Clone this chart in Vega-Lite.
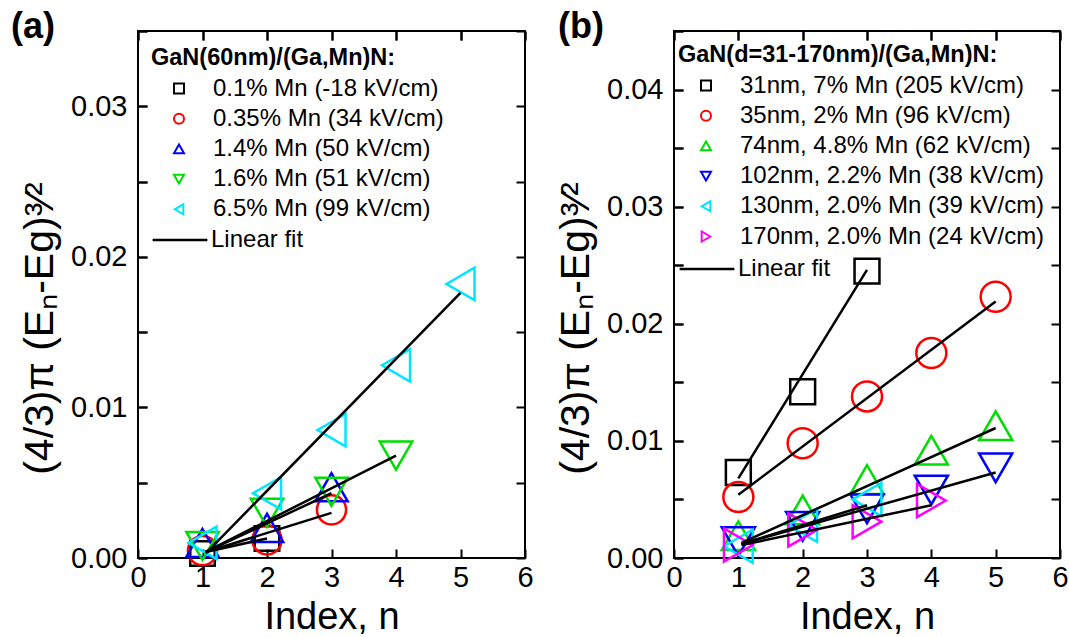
{
  "$schema": "https://vega.github.io/schema/vega-lite/v6.json",
  "background": "white",
  "padding": {"left": 10, "top": 8, "right": 5, "bottom": 0},
  "spacing": 149,
  "bounds": "flush",
  "config": {
    "font": "Liberation Sans",
    "view": {"stroke": "black", "strokeWidth": 2},
    "axis": {
      "domain": false, "offset": -9, "zindex": 2, "ticks": true, "tickOpacity": 1,
      "tickColor": "#000000", "tickWidth": 2, "tickSize": 9,
      "grid": true, "gridColor": "#000000", "gridWidth": 2, "gridOpacity": 1, "gridDash": [9, 3000], "gridCap": "butt",
      "labelFontSize": 29, "labelColor": "black", "labelPadding": 11,
      "labelFlush": false, "labelOverlap": false,
      "titleFontSize": 38, "titleFontWeight": "normal", "titleColor": "black"
    },
    "legend": {
      "labelFontSize": 24, "labelColor": "black", "labelLimit": 0, "titleLimit": 0,
      "titleFontSize": 23.5, "titleFontWeight": "bold", "titleColor": "black"
    }
  },
  "resolve": {
    "scale": {"stroke": "independent", "shape": "independent", "color": "independent"},
    "legend": {"stroke": "independent", "shape": "independent", "color": "independent"}
  },
  "hconcat": [
    {
      "width": 387,
      "height": 527,
      "title": {"text": "(a)", "anchor": "start", "frame": "group", "dx": -127, "fontSize": 36, "fontWeight": "bold", "color": "black", "offset": -29},
      "resolve": {"axis": {"x": "independent", "y": "independent"}},
      "layer": [
        {
          "data": {"values": [
            {"s": "0.1% Mn (-18 kV/cm)", "n": 1, "v": 0.0003},
            {"s": "0.1% Mn (-18 kV/cm)", "n": 2, "v": 0.0013},
            {"s": "0.35% Mn (34 kV/cm)", "n": 1, "v": 0.0005},
            {"s": "0.35% Mn (34 kV/cm)", "n": 2, "v": 0.0012},
            {"s": "0.35% Mn (34 kV/cm)", "n": 3, "v": 0.0032},
            {"s": "1.4% Mn (50 kV/cm)", "n": 1, "v": 0.0010},
            {"s": "1.4% Mn (50 kV/cm)", "n": 2, "v": 0.0020},
            {"s": "1.4% Mn (50 kV/cm)", "n": 3, "v": 0.0047},
            {"s": "1.6% Mn (51 kV/cm)", "n": 1, "v": 0.0008},
            {"s": "1.6% Mn (51 kV/cm)", "n": 2, "v": 0.0030},
            {"s": "1.6% Mn (51 kV/cm)", "n": 3, "v": 0.0044},
            {"s": "1.6% Mn (51 kV/cm)", "n": 4, "v": 0.0068},
            {"s": "6.5% Mn (99 kV/cm)", "n": 1, "v": 0.0010},
            {"s": "6.5% Mn (99 kV/cm)", "n": 2, "v": 0.0043},
            {"s": "6.5% Mn (99 kV/cm)", "n": 3, "v": 0.0085},
            {"s": "6.5% Mn (99 kV/cm)", "n": 4, "v": 0.0128},
            {"s": "6.5% Mn (99 kV/cm)", "n": 5, "v": 0.0182}
          ]},
          "mark": {"type": "point", "filled": false, "strokeWidth": 2.5, "opacity": 1},
          "encoding": {
            "x": {"field": "n", "type": "quantitative",
              "scale": {"domain": [0, 6], "nice": false, "zero": false},
              "axis": {"orient": "bottom", "offset": -9, "values": [0, 1, 2, 3, 4, 5, 6], "format": "d", "title": "Index, n", "labelPadding": 5, "titlePadding": 6}},
            "y": {"field": "v", "type": "quantitative",
              "scale": {"domain": [0, 0.035], "nice": false},
              "axis": {"orient": "left", "offset": -9, "values": [0, 0.005, 0.01, 0.015, 0.02, 0.025, 0.03, 0.035],
                "labelExpr": "round(datum.value*200) % 2 == 0 ? format(datum.value, '.2f') : ''",
                "title": "(4/3)π (Eₙ-Eg)³⁄²", "titleFontSize": 41, "titlePadding": 9, "titleY": 297}},
            "size": {"condition": [
                {"test": "datum.s === '0.1% Mn (-18 kV/cm)'", "value": 600},
                {"test": "datum.s === '0.35% Mn (34 kV/cm)'", "value": 850}],
              "value": 1050},
            "stroke": {"field": "s", "type": "nominal",
              "scale": {"domain": ["0.1% Mn (-18 kV/cm)", "0.35% Mn (34 kV/cm)", "1.4% Mn (50 kV/cm)", "1.6% Mn (51 kV/cm)", "6.5% Mn (99 kV/cm)"],
                "range": ["#000000", "#ff0000", "#0000ff", "#00dd00", "#00e5ff"]},
              "legend": {"orient": "none", "legendX": 13, "legendY": 15, "title": "GaN(60nm)/(Ga,Mn)N:", "titlePadding": 7,
                "symbolOffset": 16, "symbolStrokeWidth": 2, "labelOffset": 22, "rowPadding": 6.2,
                "encode": {"symbols": {"update": {"size": {"value": 430}}}}}},
            "shape": {"field": "s", "type": "nominal",
              "scale": {"domain": ["0.1% Mn (-18 kV/cm)", "0.35% Mn (34 kV/cm)", "1.4% Mn (50 kV/cm)", "1.6% Mn (51 kV/cm)", "6.5% Mn (99 kV/cm)"],
                "range": ["square", "circle", "triangle-up", "triangle-down", "triangle-left"]},
              "legend": {"orient": "none", "legendX": 13, "legendY": 15, "title": "GaN(60nm)/(Ga,Mn)N:", "titlePadding": 7,
                "symbolOffset": 16, "symbolStrokeWidth": 2, "labelOffset": 22, "rowPadding": 6.2,
                "encode": {"symbols": {"update": {"size": {"value": 430}}}}}}
          }
        },
        {
          "data": {"values": [
            {"s": "0.1% Mn (-18 kV/cm)", "f": "Linear fit", "n": 1.05, "v": 0.0004},
            {"s": "0.1% Mn (-18 kV/cm)", "f": "Linear fit", "n": 2, "v": 0.0013},
            {"s": "0.35% Mn (34 kV/cm)", "f": "Linear fit", "n": 1.05, "v": 0.0004},
            {"s": "0.35% Mn (34 kV/cm)", "f": "Linear fit", "n": 3, "v": 0.0030},
            {"s": "1.4% Mn (50 kV/cm)", "f": "Linear fit", "n": 1.05, "v": 0.0004},
            {"s": "1.4% Mn (50 kV/cm)", "f": "Linear fit", "n": 3, "v": 0.0043},
            {"s": "1.6% Mn (51 kV/cm)", "f": "Linear fit", "n": 1.05, "v": 0.0004},
            {"s": "1.6% Mn (51 kV/cm)", "f": "Linear fit", "n": 4, "v": 0.0068},
            {"s": "6.5% Mn (99 kV/cm)", "f": "Linear fit", "n": 1.05, "v": 0.0003},
            {"s": "6.5% Mn (99 kV/cm)", "f": "Linear fit", "n": 5, "v": 0.0176}
          ]},
          "mark": {"type": "line", "strokeWidth": 2.5},
          "encoding": {
            "x": {"field": "n", "type": "quantitative",
              "axis": {"orient": "top", "offset": -9, "values": [0, 1, 2, 3, 4, 5, 6], "labels": false, "title": null, "minExtent": 0, "maxExtent": 0}},
            "y": {"field": "v", "type": "quantitative",
              "axis": {"orient": "right", "offset": -9, "values": [0, 0.005, 0.01, 0.015, 0.02, 0.025, 0.03, 0.035], "labels": false, "title": null, "minExtent": 0, "maxExtent": 0}},
            "detail": {"field": "s", "type": "nominal"},
            "color": {"field": "f", "type": "nominal", "scale": {"domain": ["Linear fit"], "range": ["#000000"]},
              "legend": {"orient": "none", "legendX": 13, "legendY": 180, "title": null, "symbolType": "stroke", "symbolSize": 3000, "symbolStrokeWidth": 2.5, "labelOffset": 2}}
          }
        }
      ]
    },
    {
      "width": 386,
      "height": 527,
      "title": {"text": "(b)", "anchor": "start", "frame": "group", "dx": -116, "fontSize": 36, "fontWeight": "bold", "color": "black", "offset": -29},
      "resolve": {"axis": {"x": "independent", "y": "independent"}},
      "layer": [
        {
          "data": {"values": [
            {"s": "31nm, 7% Mn (205 kV/cm)", "n": 1, "v": 0.0073},
            {"s": "31nm, 7% Mn (205 kV/cm)", "n": 2, "v": 0.0142},
            {"s": "31nm, 7% Mn (205 kV/cm)", "n": 3, "v": 0.0245},
            {"s": "35nm, 2% Mn (96 kV/cm)", "n": 1, "v": 0.0052},
            {"s": "35nm, 2% Mn (96 kV/cm)", "n": 2, "v": 0.0098},
            {"s": "35nm, 2% Mn (96 kV/cm)", "n": 3, "v": 0.0138},
            {"s": "35nm, 2% Mn (96 kV/cm)", "n": 4, "v": 0.0175},
            {"s": "35nm, 2% Mn (96 kV/cm)", "n": 5, "v": 0.0223},
            {"s": "74nm, 4.8% Mn (62 kV/cm)", "n": 1, "v": 0.0019},
            {"s": "74nm, 4.8% Mn (62 kV/cm)", "n": 2, "v": 0.0041},
            {"s": "74nm, 4.8% Mn (62 kV/cm)", "n": 3, "v": 0.0067},
            {"s": "74nm, 4.8% Mn (62 kV/cm)", "n": 4, "v": 0.0092},
            {"s": "74nm, 4.8% Mn (62 kV/cm)", "n": 5, "v": 0.0113},
            {"s": "102nm, 2.2% Mn (38 kV/cm)", "n": 1, "v": 0.0014},
            {"s": "102nm, 2.2% Mn (38 kV/cm)", "n": 2, "v": 0.0027},
            {"s": "102nm, 2.2% Mn (38 kV/cm)", "n": 3, "v": 0.0042},
            {"s": "102nm, 2.2% Mn (38 kV/cm)", "n": 4, "v": 0.0058},
            {"s": "102nm, 2.2% Mn (38 kV/cm)", "n": 5, "v": 0.0077},
            {"s": "130nm, 2.0% Mn (39 kV/cm)", "n": 1, "v": 0.0010},
            {"s": "130nm, 2.0% Mn (39 kV/cm)", "n": 2, "v": 0.0028},
            {"s": "130nm, 2.0% Mn (39 kV/cm)", "n": 3, "v": 0.0050},
            {"s": "170nm, 2.0% Mn (24 kV/cm)", "n": 1, "v": 0.0011},
            {"s": "170nm, 2.0% Mn (24 kV/cm)", "n": 2, "v": 0.0024},
            {"s": "170nm, 2.0% Mn (24 kV/cm)", "n": 3, "v": 0.0031},
            {"s": "170nm, 2.0% Mn (24 kV/cm)", "n": 4, "v": 0.0049}
          ]},
          "mark": {"type": "point", "filled": false, "strokeWidth": 2.5, "opacity": 1},
          "encoding": {
            "x": {"field": "n", "type": "quantitative",
              "scale": {"domain": [0, 6], "nice": false, "zero": false},
              "axis": {"orient": "bottom", "offset": -9, "values": [0, 1, 2, 3, 4, 5, 6], "format": "d", "title": "Index, n", "labelPadding": 5, "titlePadding": 6}},
            "y": {"field": "v", "type": "quantitative",
              "scale": {"domain": [0, 0.045], "nice": false},
              "axis": {"orient": "left", "offset": -9, "values": [0, 0.005, 0.01, 0.015, 0.02, 0.025, 0.03, 0.035, 0.04, 0.045],
                "labelExpr": "round(datum.value*200) % 2 == 0 ? format(datum.value, '.2f') : ''",
                "title": "(4/3)π (Eₙ-Eg)³⁄²", "titleFontSize": 41, "titlePadding": 9, "titleY": 297}},
            "size": {"condition": [
                {"test": "datum.s === '31nm, 7% Mn (205 kV/cm)'", "value": 620},
                {"test": "datum.s === '35nm, 2% Mn (96 kV/cm)'", "value": 900}],
              "value": 1100},
            "stroke": {"field": "s", "type": "nominal",
              "scale": {"domain": ["31nm, 7% Mn (205 kV/cm)", "35nm, 2% Mn (96 kV/cm)", "74nm, 4.8% Mn (62 kV/cm)", "102nm, 2.2% Mn (38 kV/cm)", "130nm, 2.0% Mn (39 kV/cm)", "170nm, 2.0% Mn (24 kV/cm)"],
                "range": ["#000000", "#ff0000", "#00dd00", "#0000ff", "#00e5ff", "#ff00ff"]},
              "legend": {"orient": "none", "legendX": 4, "legendY": 12, "title": "GaN(d=31-170nm)/(Ga,Mn)N:", "titlePadding": 7,
                "symbolOffset": 16, "symbolStrokeWidth": 2, "labelOffset": 22, "rowPadding": 6.2,
                "encode": {"symbols": {"update": {"size": {"value": 430}}}}}},
            "shape": {"field": "s", "type": "nominal",
              "scale": {"domain": ["31nm, 7% Mn (205 kV/cm)", "35nm, 2% Mn (96 kV/cm)", "74nm, 4.8% Mn (62 kV/cm)", "102nm, 2.2% Mn (38 kV/cm)", "130nm, 2.0% Mn (39 kV/cm)", "170nm, 2.0% Mn (24 kV/cm)"],
                "range": ["square", "circle", "triangle-up", "triangle-down", "triangle-left", "triangle-right"]},
              "legend": {"orient": "none", "legendX": 4, "legendY": 12, "title": "GaN(d=31-170nm)/(Ga,Mn)N:", "titlePadding": 7,
                "symbolOffset": 16, "symbolStrokeWidth": 2, "labelOffset": 22, "rowPadding": 6.2,
                "encode": {"symbols": {"update": {"size": {"value": 430}}}}}}
          }
        },
        {
          "data": {"values": [
            {"s": "31nm, 7% Mn (205 kV/cm)", "f": "Linear fit", "n": 1, "v": 0.0068},
            {"s": "31nm, 7% Mn (205 kV/cm)", "f": "Linear fit", "n": 3, "v": 0.0246},
            {"s": "35nm, 2% Mn (96 kV/cm)", "f": "Linear fit", "n": 1, "v": 0.0054},
            {"s": "35nm, 2% Mn (96 kV/cm)", "f": "Linear fit", "n": 5, "v": 0.0219},
            {"s": "74nm, 4.8% Mn (62 kV/cm)", "f": "Linear fit", "n": 1.05, "v": 0.0013},
            {"s": "74nm, 4.8% Mn (62 kV/cm)", "f": "Linear fit", "n": 5, "v": 0.0111},
            {"s": "102nm, 2.2% Mn (38 kV/cm)", "f": "Linear fit", "n": 1.05, "v": 0.0012},
            {"s": "102nm, 2.2% Mn (38 kV/cm)", "f": "Linear fit", "n": 5, "v": 0.0073},
            {"s": "130nm, 2.0% Mn (39 kV/cm)", "f": "Linear fit", "n": 1.05, "v": 0.0012},
            {"s": "130nm, 2.0% Mn (39 kV/cm)", "f": "Linear fit", "n": 3, "v": 0.0045},
            {"s": "170nm, 2.0% Mn (24 kV/cm)", "f": "Linear fit", "n": 1.05, "v": 0.0011},
            {"s": "170nm, 2.0% Mn (24 kV/cm)", "f": "Linear fit", "n": 4, "v": 0.0045}
          ]},
          "mark": {"type": "line", "strokeWidth": 2.5},
          "encoding": {
            "x": {"field": "n", "type": "quantitative",
              "axis": {"orient": "top", "offset": -9, "values": [0, 1, 2, 3, 4, 5, 6], "labels": false, "title": null, "minExtent": 0, "maxExtent": 0}},
            "y": {"field": "v", "type": "quantitative",
              "axis": {"orient": "right", "offset": -9, "values": [0, 0.005, 0.01, 0.015, 0.02, 0.025, 0.03, 0.035, 0.04, 0.045], "labels": false, "title": null, "minExtent": 0, "maxExtent": 0}},
            "detail": {"field": "s", "type": "nominal"},
            "color": {"field": "f", "type": "nominal", "scale": {"domain": ["Linear fit"], "range": ["#000000"]},
              "legend": {"orient": "none", "legendX": 4, "legendY": 209, "title": null, "symbolType": "stroke", "symbolSize": 3000, "symbolStrokeWidth": 2.5, "labelOffset": 2}}
          }
        }
      ]
    }
  ]
}
